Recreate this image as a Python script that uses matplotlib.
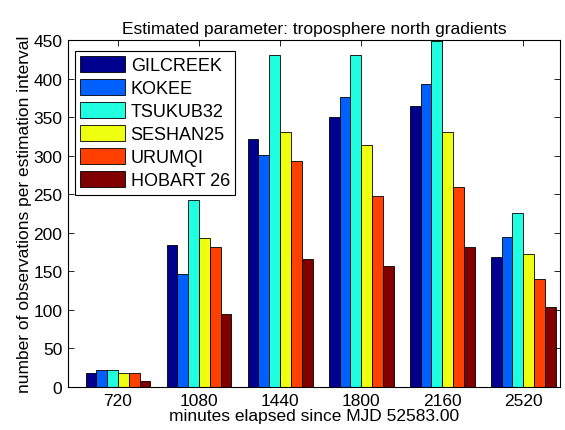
import matplotlib.pyplot as plt
import numpy as np

plt.rcParams['font.family'] = ['Liberation Sans', 'DejaVu Sans']

minutes = [720, 1080, 1440, 1800, 2160, 2520]
stations = ['GILCREEK', 'KOKEE', 'TSUKUB32', 'SESHAN25', 'URUMQI', 'HOBART 26']
gilcreek = [18, 184, 321, 350, 364, 169]
kokee = [22, 146, 301, 376, 393, 195]
tsukub32 = [22, 243, 430, 430, 448, 226]
seshan25 = [18, 193, 331, 314, 330, 172]
urumqi = [18, 182, 293, 248, 259, 140]
hobart26 = [8, 94, 166, 157, 181, 104]
series = [gilcreek, kokee, tsukub32, seshan25, urumqi, hobart26]

# matlab jet colours for 6 bar series
colors = [(0, 0, 0.5625), (0, 0.375, 1), (0.125, 1, 0.875),
          (0.9375, 1, 0.0625), (1, 0.25, 0), (0.5, 0, 0)]

fig = plt.figure(figsize=(5.65, 4.31), dpi=100)
ax = fig.add_axes([0.1204, 0.0998, 0.8706, 0.8052])

step = 360
w = 0.8 * step / len(stations)
x = np.array(minutes, dtype=float)
for i, (name, vals) in enumerate(zip(stations, series)):
    off = (i - (len(stations) - 1) / 2) * w
    ax.bar(x + off, vals, width=w, color=colors[i], edgecolor='black',
           linewidth=0.6, label=name)

ax.set_xlim(498, 2683)
ax.set_ylim(0, 450)
ax.set_xticks(minutes)
ax.set_yticks(np.arange(0, 451, 50))
ax.tick_params(direction='in', top=True, right=True, labelsize=12.5, length=4, width=0.6, pad=4)
for s in ax.spines.values():
    s.set_linewidth(0.8)

ax.set_title('Estimated parameter: troposphere north gradients', fontsize=12.5, pad=5)
ax.set_xlabel('minutes elapsed since MJD 52583.00', fontsize=12.5, labelpad=0)
ax.set_ylabel('number of observations per estimation interval', fontsize=12.5, labelpad=1)

leg = ax.legend(loc='upper left', bbox_to_anchor=(0.0136, 0.968), fontsize=13,
                fancybox=False, framealpha=1, edgecolor='black',
                handlelength=2.5, handleheight=0.94, borderaxespad=0,
                labelspacing=0.28, handletextpad=0.3, borderpad=0.3)
leg.get_frame().set_linewidth(0.8)

plt.savefig('out.png', dpi=100)
